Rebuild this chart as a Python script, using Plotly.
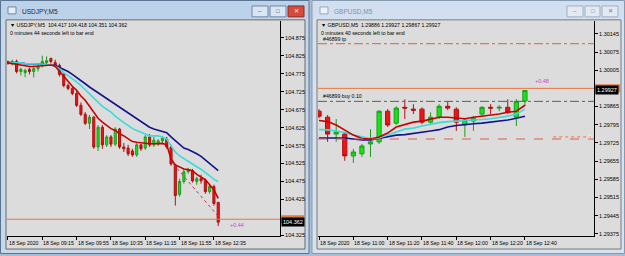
import plotly.graph_objects as go

W, H = 625, 256

# ---------------- USDJPY, M5 ----------------
jpy_symbol = "USDJPY,M5"
jpy_open = [104.809, 104.803, 104.809, 104.781, 104.778, 104.787, 104.781, 104.789, 104.798, 104.806,
            104.817, 104.806, 104.798, 104.773, 104.742, 104.734, 104.720, 104.687, 104.662, 104.637,
            104.654, 104.571, 104.626, 104.577, 104.599, 104.579, 104.621, 104.571, 104.568, 104.560,
            104.549, 104.577, 104.568, 104.599, 104.577, 104.579, 104.588, 104.593, 104.571, 104.521,
            104.439, 104.475, 104.502, 104.505, 104.475, 104.483, 104.477, 104.447, 104.461, 104.417]
jpy_high = [104.811, 104.814, 104.814, 104.792, 104.789, 104.792, 104.798, 104.800, 104.825, 104.823,
            104.820, 104.814, 104.803, 104.776, 104.748, 104.740, 104.726, 104.695, 104.668, 104.660,
            104.657, 104.632, 104.632, 104.604, 104.604, 104.626, 104.624, 104.582, 104.577, 104.566,
            104.582, 104.579, 104.604, 104.607, 104.599, 104.593, 104.602, 104.599, 104.577, 104.524,
            104.483, 104.510, 104.513, 104.510, 104.488, 104.494, 104.483, 104.466, 104.466, 104.418]
jpy_low = [104.800, 104.798, 104.776, 104.770, 104.765, 104.773, 104.765, 104.781, 104.792, 104.800,
           104.803, 104.792, 104.767, 104.737, 104.729, 104.715, 104.682, 104.657, 104.632, 104.621,
           104.566, 104.560, 104.566, 104.571, 104.571, 104.574, 104.566, 104.557, 104.546, 104.544,
           104.544, 104.560, 104.563, 104.571, 104.571, 104.574, 104.582, 104.566, 104.519, 104.408,
           104.433, 104.469, 104.497, 104.472, 104.466, 104.469, 104.441, 104.441, 104.408, 104.351]
jpy_close = [104.803, 104.809, 104.781, 104.787, 104.784, 104.781, 104.789, 104.795, 104.809, 104.811,
             104.809, 104.798, 104.773, 104.742, 104.734, 104.720, 104.687, 104.662, 104.637, 104.654,
             104.571, 104.626, 104.577, 104.599, 104.579, 104.621, 104.571, 104.566, 104.552, 104.549,
             104.577, 104.566, 104.599, 104.577, 104.590, 104.588, 104.596, 104.571, 104.524, 104.436,
             104.475, 104.502, 104.508, 104.477, 104.483, 104.477, 104.447, 104.461, 104.414, 104.362]
jpy_ma_fast = [104.805, 104.803, 104.800, 104.798, 104.796, 104.795, 104.795, 104.796, 104.798, 104.799,
               104.799, 104.796, 104.782, 104.767, 104.755, 104.740, 104.729, 104.713, 104.701, 104.684,
               104.668, 104.651, 104.640, 104.631, 104.622, 104.617, 104.608, 104.602, 104.593, 104.586,
               104.584, 104.582, 104.581, 104.580, 104.580, 104.580, 104.581, 104.577, 104.538, 104.521,
               104.515, 104.510, 104.508, 104.505, 104.495, 104.488, 104.480, 104.466, 104.452, 104.428]
jpy_ma_mid = [104.806, 104.806, 104.805, 104.805, 104.803, 104.803, 104.803, 104.802, 104.802, 104.800,
              104.800, 104.796, 104.789, 104.778, 104.770, 104.760, 104.752, 104.742, 104.730, 104.719,
              104.708, 104.695, 104.684, 104.676, 104.668, 104.657, 104.647, 104.639, 104.631, 104.622,
              104.617, 104.611, 104.607, 104.602, 104.602, 104.602, 104.599, 104.593, 104.574, 104.557,
              104.546, 104.538, 104.531, 104.523, 104.516, 104.509, 104.501, 104.491, 104.481, 104.475]
jpy_ma_slow = [104.806, 104.806, 104.805, 104.805, 104.803, 104.803, 104.803, 104.802, 104.802, 104.800,
               104.800, 104.798, 104.792, 104.787, 104.781, 104.773, 104.765, 104.756, 104.747, 104.738,
               104.730, 104.720, 104.712, 104.704, 104.697, 104.689, 104.680, 104.673, 104.665, 104.657,
               104.649, 104.642, 104.633, 104.626, 104.621, 104.617, 104.614, 104.611, 104.599, 104.588,
               104.577, 104.568, 104.564, 104.559, 104.552, 104.545, 104.535, 104.524, 104.513, 104.505]
jpy_time_tick_bars = [0, 8, 16, 24, 32, 40, 48]
jpy_time_tick_text = ["18 Sep 2020", "18 Sep 09:15", "18 Sep 09:55", "18 Sep 10:35",
                      "18 Sep 11:15", "18 Sep 11:55", "18 Sep 12:35"]
jpy_price_ticks = [104.875, 104.825, 104.775, 104.725, 104.675, 104.625, 104.575,
                   104.525, 104.475, 104.425, 104.375, 104.325]
jpy_hidden_tick = 104.375          # covered by the price boxes in the original
jpy_yrange = [104.323, 104.922]
jpy_xrange = [-0.23, 63.4]
jpy_orange_level = 104.370
jpy_trade_bars = [38.5, 49]
jpy_trade_prices = [104.524, 104.378]
jpy_profit = "+0.44"
jpy_profit_pos = (51.3, 104.354)
jpy_timer = "0 minutes 44 seconds left to bar end"

# ---------------- GBPUSD, M5 ----------------
gbp_symbol = "GBPUSD,M5"
gbp_open = [1.29847, 1.29824, 1.29759, 1.29759, 1.29675, 1.29683, 1.29721, 1.29729, 1.29847, 1.29801,
            1.29862, 1.29855, 1.29855, 1.29805, 1.29824, 1.29866, 1.29855, 1.29794, 1.29809, 1.29836,
            1.29862, 1.29859, 1.29862, 1.29824, 1.29886]
gbp_high = [1.29855, 1.29832, 1.29817, 1.29767, 1.29702, 1.29721, 1.29778, 1.29851, 1.29855, 1.29866,
            1.29893, 1.29874, 1.29862, 1.29843, 1.29874, 1.29885, 1.29862, 1.29820, 1.29828, 1.29866,
            1.29874, 1.29870, 1.29893, 1.29893, 1.29927]
gbp_low = [1.29820, 1.29729, 1.29729, 1.29656, 1.29648, 1.29671, 1.29671, 1.29721, 1.29786, 1.29794,
           1.29817, 1.29836, 1.29797, 1.29797, 1.29817, 1.29851, 1.29771, 1.29748, 1.29771, 1.29828,
           1.29836, 1.29847, 1.29836, 1.29790, 1.29867]
gbp_close = [1.29828, 1.29759, 1.29767, 1.29675, 1.29690, 1.29713, 1.29729, 1.29847, 1.29794, 1.29859,
             1.29859, 1.29851, 1.29805, 1.29824, 1.29866, 1.29859, 1.29805, 1.29813, 1.29820, 1.29862,
             1.29859, 1.29862, 1.29843, 1.29885, 1.29927]
gbp_ma_fast = [1.29811, 1.29807, 1.29794, 1.29775, 1.29755, 1.29742, 1.29740, 1.29748, 1.29763, 1.29786,
               1.29797, 1.29805, 1.29809, 1.29817, 1.29824, 1.29824, 1.29822, 1.29818, 1.29824, 1.29828,
               1.29832, 1.29836, 1.29843, 1.29847, 1.29870]
gbp_ma_mid = [1.29776, 1.29775, 1.29771, 1.29765, 1.29755, 1.29748, 1.29742, 1.29744, 1.29754, 1.29767,
              1.29778, 1.29782, 1.29790, 1.29797, 1.29803, 1.29807, 1.29809, 1.29809, 1.29811, 1.29815,
              1.29818, 1.29822, 1.29828, 1.29836, 1.29855]
gbp_ma_slow = [1.29744, 1.29744, 1.29744, 1.29744, 1.29740, 1.29736, 1.29736, 1.29742, 1.29750, 1.29755,
               1.29757, 1.29761, 1.29767, 1.29771, 1.29776, 1.29786, 1.29792, 1.29796, 1.29799, 1.29801,
               1.29805, 1.29809, 1.29813, 1.29820, 1.29828]
gbp_time_tick_bars = [0, 4, 8, 12, 16, 20, 24]
gbp_time_tick_text = ["18 Sep 2020", "18 Sep 11:00", "18 Sep 11:20", "18 Sep 11:40",
                      "18 Sep 12:00", "18 Sep 12:20", "18 Sep 12:40"]
gbp_price_ticks = [1.30145, 1.30075, 1.30005, 1.29935, 1.29865, 1.29795, 1.29725,
                   1.29655, 1.29585, 1.29515, 1.29445, 1.29375]
gbp_hidden_tick = 1.29935          # covered by the price boxes in the original
gbp_yrange = [1.29366, 1.30195]
gbp_xrange = [-0.12, 32.05]
gbp_tp_level = 1.30107
gbp_buy_level = 1.29885
gbp_sl_level = 1.29740
gbp_orange_level = 1.29935
gbp_pending_bars = [27.3, 31.6]
gbp_pending_prices = [1.29748, 1.29748]
gbp_order_tp_label = "#46899 tp"
gbp_order_buy_label = "#46899 buy 0.10"
gbp_profit = "+0.48"
gbp_profit_pos = (24.9, 1.29962)
gbp_timer = "0 minutes 40 seconds left to bar end"

# ---------------- styling ----------------
FONT = "Liberation Sans"
CHART_BG = "#dcdcdc"
UP_FILL, UP_LINE = "#14e614", "#1f9a1f"
DN_FILL, DN_LINE = "#ee1414", "#b01010"
MA_FAST, MA_MID, MA_SLOW = "#c80000", "#38dcdc", "#14148c"
ORANGE = "#e8783a"


def xp(px):
    return px / W


def yp(py):
    return 1 - py / H


fig = go.Figure()


def add_chart(xa, ya, o, h, l, c, fast, mid, slow):
    bars = list(range(len(o)))
    fig.add_trace(go.Candlestick(
        x=bars, open=o, high=h, low=l, close=c, xaxis=xa, yaxis=ya,
        increasing=dict(fillcolor=UP_FILL, line=dict(color=UP_LINE, width=1)),
        decreasing=dict(fillcolor=DN_FILL, line=dict(color=DN_LINE, width=1)),
        whiskerwidth=0, showlegend=False, hoverinfo="skip"))
    for series, col in ((slow, MA_SLOW), (mid, MA_MID), (fast, MA_FAST)):
        fig.add_trace(go.Scatter(x=bars, y=series, mode="lines", xaxis=xa, yaxis=ya,
                                 line=dict(color=col, width=1.6), showlegend=False,
                                 hoverinfo="skip"))


add_chart("x", "y", jpy_open, jpy_high, jpy_low, jpy_close,
          jpy_ma_fast, jpy_ma_mid, jpy_ma_slow)
add_chart("x2", "y2", gbp_open, gbp_high, gbp_low, gbp_close,
          gbp_ma_fast, gbp_ma_mid, gbp_ma_slow)

# trade history line (left)
fig.add_trace(go.Scatter(x=jpy_trade_bars, y=jpy_trade_prices, mode="lines",
                         xaxis="x", yaxis="y", line=dict(color="#d23030", width=1, dash="dot"),
                         showlegend=False, hoverinfo="skip"))
# pending arrow (right)
fig.add_trace(go.Scatter(x=gbp_pending_bars, y=gbp_pending_prices, mode="lines+markers",
                         xaxis="x2", yaxis="y2",
                         line=dict(color=ORANGE, width=1, dash="dot"),
                         marker=dict(symbol=["line-ns", "triangle-right"], size=[0, 4],
                                     color=ORANGE),
                         showlegend=False, hoverinfo="skip"))

axis_common = dict(showgrid=False, zeroline=False, showline=True, linecolor="black",
                   linewidth=1, ticks="outside", ticklen=3, tickcolor="black",
                   tickwidth=1, fixedrange=True)

fig.update_layout(
    width=W, height=H, margin=dict(l=0, r=0, t=0, b=0),
    paper_bgcolor="#aabdd3", plot_bgcolor=CHART_BG,
    font=dict(family=FONT, size=5.5, color="black"),
    xaxis=dict(domain=[xp(7), xp(280)], range=jpy_xrange, anchor="y",
               tickvals=jpy_time_tick_bars, showticklabels=False,
               rangeslider=dict(visible=False), **axis_common),
    yaxis=dict(domain=[yp(238), yp(21)], range=jpy_yrange, anchor="x", side="right",
               tickvals=jpy_price_ticks,
               ticktext=["" if v == jpy_hidden_tick else f"{v:.3f}" for v in jpy_price_ticks],
               tickfont=dict(size=5.5, family=FONT), **axis_common),
    xaxis2=dict(domain=[xp(318), xp(594)], range=gbp_xrange, anchor="y2",
                tickvals=gbp_time_tick_bars, showticklabels=False,
                rangeslider=dict(visible=False), **axis_common),
    yaxis2=dict(domain=[yp(238), yp(21)], range=gbp_yrange, anchor="x2", side="right",
                tickvals=gbp_price_ticks,
                ticktext=["" if v == gbp_hidden_tick else f"{v:.5f}" for v in gbp_price_ticks],
                tickfont=dict(size=5.5, family=FONT), **axis_common),
)

shapes = []


def rect(x0, y0, x1, y1, fill, line, lw=1, layer="below"):
    shapes.append(dict(type="rect", xref="paper", yref="paper",
                       x0=xp(x0), x1=xp(x1), y0=yp(y1), y1=yp(y0),
                       fillcolor=fill, line=dict(color=line, width=lw), layer=layer))


# windows
rect(0.5, 0.5, 309, 255.5, "#c6d8ec", "#5a7391")
rect(312, 0.5, 624.5, 255.5, "#d6e2ef", "#8599b0")
# title bar shading
rect(1, 1, 308, 19, "#bcd1ea", "rgba(0,0,0,0)", 0)
rect(313, 1, 624, 19, "#d2dff0", "rgba(0,0,0,0)", 0)
# client areas
rect(6, 20, 305, 251, CHART_BG, "#6a6a6a")
rect(317, 20, 621, 251, CHART_BG, "#7a7a7a")
# window buttons
rect(252, 6, 268, 17, "#dbe6f3", "#6e86a6")
rect(270, 6, 286, 17, "#dbe6f3", "#6e86a6")
rect(288, 6, 304, 17, "#d9493c", "#8a2a22")
rect(567, 6, 583, 17, "#e3eaf3", "#a0b0c2")
rect(585, 6, 600, 17, "#e3eaf3", "#a0b0c2")
rect(602, 6, 618, 17, "#e3eaf3", "#a0b0c2")
# window icons
rect(8, 7, 16, 14, "#e8eef6", "#6f86a5")
rect(320, 7, 328, 14, "#eef2f8", "#95a6bb")

# price level lines
for xr, yr, lvl, col, dash in (
        ("x domain", "y", jpy_orange_level, ORANGE, "solid"),
        ("x2 domain", "y2", gbp_orange_level, ORANGE, "solid"),
        ("x2 domain", "y2", gbp_tp_level, "#e0603a", "dashdot"),
        ("x2 domain", "y2", gbp_buy_level, "#4f664f", "dashdot"),
        ("x2 domain", "y2", gbp_sl_level, "#e05a4a", "dash")):
    shapes.append(dict(type="line", xref=xr, yref=yr, x0=0, x1=1, y0=lvl, y1=lvl,
                       line=dict(color=col, width=1, dash=dash), layer="above"))

# orange price tags on the scale (mostly hidden behind the black current-price tag)
for x0, x1, yr, lvl in ((281, 304, "y", jpy_orange_level), (595, 620, "y2", gbp_orange_level)):
    shapes.append(dict(type="rect", xref="paper", yref=yr, x0=xp(x0), x1=xp(x1),
                       ysizemode="pixel", yanchor=lvl, y0=-4, y1=4,
                       fillcolor=ORANGE, line=dict(width=0), layer="above"))

fig.update_layout(shapes=shapes)

ann = []


def text(x, y, s, size=5.5, color="black", xref="paper", yref="paper",
         xanchor="left", yanchor="middle", **kw):
    ann.append(dict(x=x, y=y, xref=xref, yref=yref, text=s, showarrow=False,
                    xanchor=xanchor, yanchor=yanchor,
                    font=dict(size=size, color=color, family=FONT), **kw))


# title bars
text(xp(20), yp(11.5), jpy_symbol, size=6.5, color="#1a2a44")
text(xp(332), yp(11.5), gbp_symbol, size=6.5, color="#8292a6")
text(xp(260), yp(11.5), "–", size=6, color="#334", xanchor="center")
text(xp(278), yp(11.5), "□", size=6, color="#334", xanchor="center")
text(xp(296), yp(11.5), "✕", size=6, color="white", xanchor="center")
text(xp(575), yp(11.5), "–", size=6, color="#778", xanchor="center")
text(xp(592.5), yp(11.5), "□", size=6, color="#778", xanchor="center")
text(xp(610), yp(11.5), "✕", size=6, color="#778", xanchor="center")

# chart headers
text(xp(8), yp(25), "▼ %s  %.3f %.3f %.3f %.3f" % (jpy_symbol, jpy_open[-1], jpy_high[-1],
                                                   jpy_low[-1], jpy_close[-1]), size=5.2)
text(xp(8), yp(33), jpy_timer, size=5.2)
text(xp(319), yp(25), "▼ %s  %.5f %.5f %.5f %.5f" % (gbp_symbol, gbp_open[-1], gbp_high[-1],
                                                     gbp_low[-1], gbp_close[-1]), size=5.2)
text(xp(319), yp(33), gbp_timer, size=5.2)

# order labels (right)
text(0, gbp_tp_level, gbp_order_tp_label, size=5.2, xref="x2", yref="y2",
     yanchor="bottom", xshift=2)
text(0, gbp_buy_level, gbp_order_buy_label, size=5.2, xref="x2", yref="y2",
     yanchor="bottom", xshift=2)

# profit labels
text(jpy_profit_pos[0], jpy_profit_pos[1], jpy_profit, size=5.5, color="#d040d0",
     xref="x", yref="y")
text(gbp_profit_pos[0], gbp_profit_pos[1], gbp_profit, size=5.5, color="#d040d0",
     xref="x2", yref="y2")

# time axis labels (left-aligned at ticks, MT4 style)
for b, t in zip(jpy_time_tick_bars, jpy_time_tick_text):
    text(b, yp(240), t, size=5.2, xref="x", yanchor="top", xshift=-1)
for b, t in zip(gbp_time_tick_bars, gbp_time_tick_text):
    text(b, yp(240), t, size=5.2, xref="x2", yanchor="top", xshift=-1)

# current price tags on the price scale
for xpx, yr, lvl, s in ((281, "y", jpy_close[-1], "%.3f" % jpy_close[-1]),
                        (595, "y2", gbp_close[-1], "%.5f" % gbp_close[-1])):
    ann.append(dict(x=xp(xpx), y=lvl, xref="paper", yref=yr, text=s, showarrow=False,
                    xanchor="left", yanchor="middle", bgcolor="black", borderpad=1,
                    font=dict(size=5.5, color="white", family=FONT)))

fig.update_layout(annotations=ann)

fig.write_html("out.html")
